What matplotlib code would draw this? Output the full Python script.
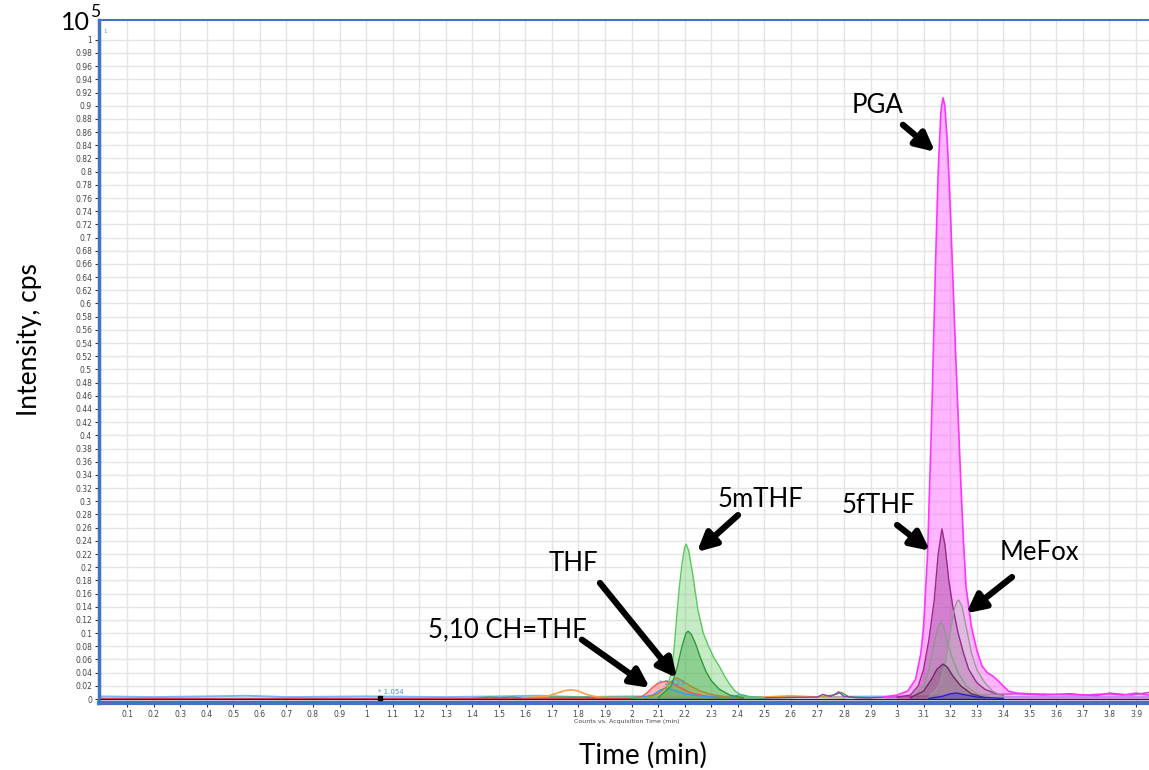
import numpy as np
import matplotlib
matplotlib.use("Agg")
import matplotlib.pyplot as plt
from matplotlib.ticker import FixedLocator, FuncFormatter

# ---------------- data ----------------
pga_x = [2.95, 3.0, 3.04, 3.07, 3.09, 3.10, 3.115, 3.13, 3.145, 3.155, 3.165, 3.173, 3.18, 3.19,
         3.20, 3.21, 3.22, 3.23, 3.24, 3.25, 3.26, 3.28, 3.30, 3.32, 3.34, 3.36, 3.38, 3.40, 3.42,
         3.45, 3.5, 3.6, 3.7, 3.8, 3.85, 3.9, 3.95]
pga_y = [0.003, 0.006, 0.012, 0.03, 0.07, 0.11, 0.22, 0.42, 0.66, 0.80, 0.89, 0.912, 0.90, 0.84,
         0.75, 0.64, 0.53, 0.43, 0.33, 0.24, 0.17, 0.11, 0.075, 0.05, 0.04, 0.035, 0.028, 0.02, 0.012,
         0.009, 0.008, 0.007, 0.006, 0.008, 0.006, 0.009, 0.006]

mthf_x = [2.0, 2.1, 2.13, 2.15, 2.16, 2.17, 2.18, 2.19, 2.2, 2.206, 2.215, 2.23, 2.25, 2.27, 2.29,
          2.31, 2.33, 2.35, 2.37, 2.39, 2.42, 2.5]
mthf_y = [0.001, 0.003, 0.01, 0.04, 0.075, 0.125, 0.17, 0.205, 0.23, 0.235, 0.225, 0.19, 0.135,
          0.1, 0.08, 0.063, 0.05, 0.035, 0.022, 0.012, 0.004, 0.002]

green2_x = [2.1, 2.15, 2.17, 2.19, 2.205, 2.213, 2.225, 2.24, 2.26, 2.28, 2.30, 2.33, 2.37, 2.42]
green2_y = [0.002, 0.02, 0.045, 0.08, 0.1, 0.103, 0.098, 0.085, 0.062, 0.042, 0.028, 0.015, 0.006, 0.002]

fthf_x = [3.0, 3.05, 3.08, 3.10, 3.12, 3.14, 3.155, 3.169, 3.18, 3.195, 3.21, 3.23, 3.25, 3.27, 3.30,
          3.33, 3.36, 3.4]
fthf_y = [0.003, 0.006, 0.02, 0.045, 0.09, 0.15, 0.22, 0.258, 0.235, 0.18, 0.14, 0.1, 0.07, 0.045,
          0.025, 0.015, 0.01, 0.005]

gray1_x = [3.06, 3.10, 3.12, 3.14, 3.155, 3.165, 3.175, 3.19, 3.21, 3.23, 3.26, 3.30, 3.35]
gray1_y = [0.003, 0.02, 0.045, 0.085, 0.11, 0.117, 0.11, 0.085, 0.06, 0.04, 0.02, 0.008, 0.003]

mefox_x = [3.12, 3.16, 3.18, 3.20, 3.215, 3.225, 3.233, 3.245, 3.26, 3.28, 3.30, 3.33, 3.36, 3.40]
mefox_y = [0.003, 0.02, 0.05, 0.10, 0.135, 0.148, 0.15, 0.14, 0.11, 0.07, 0.045, 0.025, 0.012, 0.004]

purple_small_x = [3.05, 3.10, 3.13, 3.15, 3.173, 3.19, 3.21, 3.24, 3.28, 3.33]
purple_small_y = [0.002, 0.012, 0.03, 0.045, 0.053, 0.048, 0.035, 0.02, 0.008, 0.002]

blue_small_x = [3.12, 3.17, 3.2, 3.225, 3.25, 3.3, 3.4]
blue_small_y = [0.001, 0.004, 0.008, 0.009, 0.007, 0.003, 0.001]

thf_x = [2.05, 2.1, 2.13, 2.15, 2.171, 2.19, 2.22, 2.26, 2.3, 2.36, 2.42]
thf_y = [0.001, 0.008, 0.018, 0.027, 0.032, 0.028, 0.02, 0.012, 0.007, 0.003, 0.001]

ch_x = [0.0, 1.45, 2.0, 2.04, 2.06, 2.08, 2.10, 2.126, 2.15, 2.18, 2.22, 2.27, 2.33]
ch_y = [0.001, 0.001, 0.001, 0.004, 0.01, 0.018, 0.024, 0.027, 0.025, 0.018, 0.01, 0.005, 0.002]

blue2_x = [2.03, 2.08, 2.11, 2.13, 2.16, 2.2, 2.25, 2.3, 2.38, 2.41, 2.45, 2.5]
blue2_y = [0.002, 0.006, 0.014, 0.017, 0.013, 0.008, 0.005, 0.003, 0.003, 0.007, 0.003, 0.002]

orange_x = [1.6, 1.68, 1.72, 1.75, 1.775, 1.8, 1.83, 1.87, 1.95, 2.0, 2.5, 2.6, 2.65, 2.7, 2.8]
orange_y = [0.002, 0.004, 0.009, 0.013, 0.014, 0.012, 0.007, 0.003, 0.002, 0.002, 0.003, 0.005, 0.004,
            0.003, 0.002]

purple_noise_x = [2.5, 2.7, 2.72, 2.75, 2.77, 2.78, 2.8, 2.85, 2.9, 3.45, 3.55, 3.65, 3.75, 3.8, 3.88, 3.95]
purple_noise_y = [0.002, 0.003, 0.007, 0.004, 0.008, 0.011, 0.004, 0.002, 0.002, 0.008, 0.006, 0.008,
                  0.005, 0.009, 0.006, 0.01]

green_base_x = [1.4, 1.47, 1.5, 1.55, 1.6, 1.65, 2.5, 2.7, 2.76, 2.79, 2.82, 2.9]
green_base_y = [0.001, 0.003, 0.002, 0.003, 0.001, 0.003, 0.002, 0.003, 0.006, 0.01, 0.003, 0.002]

lblue_base_x = [0.0, 0.2, 0.4, 0.55, 0.7, 1.0, 1.3, 1.5, 1.65, 1.8, 2.0, 2.6, 3.0, 3.5, 3.95]
lblue_base_y = [0.004, 0.003, 0.004, 0.005, 0.003, 0.004, 0.003, 0.004, 0.005, 0.003, 0.004, 0.003,
                0.004, 0.003, 0.003]

y_ticks = np.round(np.arange(0, 1.0001, 0.02), 2)
x_ticks = np.round(np.arange(0.1, 3.9001, 0.1), 1)

# ---------------- figure ----------------
W, H = 1149, 770
fig = plt.figure(figsize=(W / 100, H / 100), dpi=100)
ax = fig.add_axes([99 / W, 1 - 703 / H, 1 - 99 / W, (703 - 20) / H])
ax.set_xlim(-0.006, 3.949)
ax.set_ylim(-0.006, 1.030)

ax.yaxis.set_major_locator(FixedLocator(y_ticks))
ax.xaxis.set_major_locator(FixedLocator(x_ticks))
fmt = FuncFormatter(lambda v, p: "%g" % round(v, 2))
ax.yaxis.set_major_formatter(fmt)
ax.xaxis.set_major_formatter(fmt)
ax.grid(True, color="#e4e4e4", lw=1.0)
ax.set_axisbelow(True)
ax.tick_params(axis="both", labelsize=5.5, labelcolor="#444444", length=3, width=0.8,
               color="#333333", pad=2)
for s in ["left", "bottom", "top"]:
    ax.spines[s].set_color("#4472c4")
ax.spines["left"].set_linewidth(2.5)
ax.spines["bottom"].set_linewidth(3)
ax.spines["top"].set_linewidth(1.5)
ax.spines["right"].set_visible(False)


def peak(x, y, line, fill, alpha, lw=1.0, z=2):
    ax.fill_between(x, 0, y, color=fill, alpha=alpha, lw=0, zorder=z)
    ax.plot(x, y, color=line, lw=lw, zorder=z + 0.1)


ax.plot(lblue_base_x, lblue_base_y, color="#7fb2ee", lw=1.4, zorder=2)
ax.plot(green_base_x, green_base_y, color="#33aa33", lw=1.0, zorder=2)
ax.plot(orange_x, orange_y, color="#ffa040", lw=1.2, zorder=2)
ax.plot(purple_noise_x, purple_noise_y, color="#a03ca0", lw=1.0, zorder=2)
peak(ch_x, ch_y, "#ff4d4d", "#ff8080", 0.55)
peak(blue2_x, blue2_y, "#3399ff", "#66b3ff", 0.3)
peak(thf_x, thf_y, "#b08a20", "#c8a040", 0.35)
peak(mthf_x, mthf_y, "#5cc85c", "#70d070", 0.40)
peak(green2_x, green2_y, "#2f9a3a", "#3aa845", 0.40)
peak(pga_x, pga_y, "#ff33ff", "#ff5cff", 0.45, lw=1.2)
peak(fthf_x, fthf_y, "#9a2a8a", "#9a3090", 0.40)
peak(gray1_x, gray1_y, "#8c9a8c", "#9aa09a", 0.30)
peak(mefox_x, mefox_y, "#9a9a9a", "#c0c0c0", 0.45)
peak(purple_small_x, purple_small_y, "#6a2a5a", "#6a3a5a", 0.30)
peak(blue_small_x, blue_small_y, "#2222cc", "#3333cc", 0.3)
ax.plot([0, 3.95], [0.0, 0.0], color="#1a1a6a", lw=1.0, zorder=3)

# small markers from the software
ax.plot([1.054], [0.002], marker="s", ms=3, color="black", zorder=5)
ax.text(1.045, 0.007, "* 1.054", fontsize=5, color="#4a90e2", zorder=5)
ax.text(2.105, 0.022, "* 2.123", fontsize=5, color="#4a90e2", zorder=5)
ax.text(0.01, 1.01, "1", fontsize=4, color="#4a90e2")

# annotations
afont = dict(family="Lato", fontsize=18.5, color="black")
arrow = dict(arrowstyle="-|>", color="black", lw=4.5, mutation_scale=28, shrinkA=0, shrinkB=0)
ann = [
    ("PGA", (2.928, 0.901), (3.022, 0.871), (3.143, 0.830)),
    ("5mTHF", (2.484, 0.302), (2.401, 0.279), (2.246, 0.223)),
    ("THF", (1.780, 0.206), (1.881, 0.176), (2.171, 0.032)),
    ("5,10 CH=THF", (1.531, 0.105), (1.813, 0.090), (2.069, 0.017)),
    ("5fTHF", (2.928, 0.294), (3.000, 0.264), (3.124, 0.225)),
    ("MeFox", (3.538, 0.222), (3.433, 0.185), (3.260, 0.130)),
]
for label, tpos, tail, head in ann:
    ax.text(tpos[0], tpos[1], label, ha="center", va="center", zorder=6, **afont)
    ax.annotate("", xy=head, xytext=tail, arrowprops=arrow, zorder=6)

# figure texts
fig.text(61 / W, 1 - 23 / H, "10", family="Lato", fontsize=18, ha="left", va="center")
fig.text(90 / W, 1 - 12 / H, "5", family="Lato", fontsize=12.5, ha="left", va="center")
fig.text(30 / W, 1 - 340 / H, "Intensity, cps", family="Lato", fontsize=19, rotation=90,
         ha="center", va="center")
fig.text(643 / W, 1 - 755 / H, "Time (min)", family="Lato", fontsize=20, ha="center", va="center")
fig.text(627 / W, 1 - 721 / H, "Counts vs. Acquisition Time (min)", fontsize=4.5, color="#444444",
         ha="center", va="center")

fig.savefig("out.png", dpi=100)
